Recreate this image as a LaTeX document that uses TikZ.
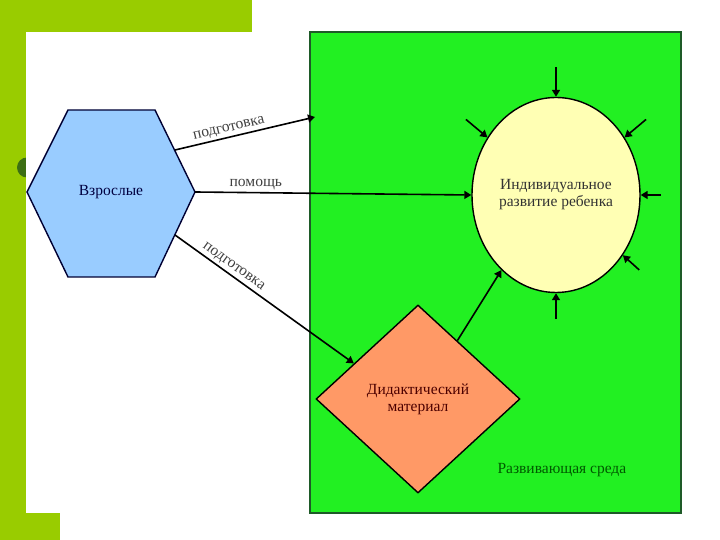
\documentclass[tikz,border=0pt]{standalone}
\usepackage{fontspec}
\setmainfont{Liberation Serif}
\usetikzlibrary{arrows.meta,shapes.geometric,calc}

\definecolor{slideolive}{RGB}{153,204,0}
\definecolor{bulletgreen}{RGB}{60,110,20}
\definecolor{envgreen}{RGB}{34,240,34}
\definecolor{envedge}{RGB}{30,90,40}
\definecolor{hexblue}{RGB}{153,204,255}
\definecolor{childyellow}{RGB}{255,255,180}
\definecolor{matorange}{RGB}{255,153,102}

\begin{document}
\begin{tikzpicture}[x=1pt,y=1pt,
  every node/.style={font=\fontsize{15.5}{17}\selectfont},
  tip/.style={-{Triangle[length=7pt,width=8pt]}, line width=1.6pt},
  lbl/.style={text=black!75, sloped, above, inner sep=2pt}]
  % slide background
  \useasboundingbox (0,0) rectangle (720,540);
  \fill[white] (0,0) rectangle (720,540);
  \fill[slideolive] (0,508) rectangle (252,540);
  \fill[slideolive] (0,0) rectangle (26,540);
  \fill[slideolive] (0,0) rectangle (60,27);
  \fill[bulletgreen] (27,372.5) circle (10);
  \fill[white] (26,27) rectangle (720,508);

  % environment
  \draw[envedge, line width=1.5pt, fill=envgreen] (310,27) rectangle (681,508);
  \node[anchor=west, text=green!35!black] (env) at (494,70) {Развивающая среда};

  % adults
  \filldraw[fill=hexblue, draw=blue!20!black, line width=1.4pt] (27,348) -- (68,430)
    -- (155,430) -- (195,348) -- (155,263) -- (68,263) -- cycle;
  \node[text=blue!25!black] (adult) at (111,348) {Взрослые};
  \coordinate (adultR) at (195,348);
  \coordinate (adultNE) at (175,390);
  \coordinate (adultSE) at (175,305);
  \coordinate (envW) at (315,423);

  % child and material
  \node[ellipse, draw, line width=1.4pt, fill=childyellow, text=black!80,
    minimum width=168, minimum height=195, inner sep=0pt, align=center]
    (child) at (556,345) {Индивидуальное\\развитие ребенка};
  \node[diamond, draw, line width=1.4pt, fill=matorange, text=red!30!black,
    minimum width=204, minimum height=188, inner sep=0pt, align=center]
    (material) at (418,141) {Дидактический\\материал};

  % connectors
  \draw[tip] (adultNE) -- node[lbl, pos=0.4] {подготовка} (envW);
  \draw[tip] (adultR) -- node[lbl, pos=0.22] {помощь} (child.180);
  \draw[tip] (adultSE) -- node[lbl, pos=0.3] {подготовка} (material.151);
  \draw[tip] (material.56) -- (child.234);
  \foreach \a/\l in {90/30,140/28,40/28,0/20,318/22,270/26} {
    \coordinate (in\a) at ($(child.\a)+(\a:\l)$);
    \draw[tip] (in\a) -- (child.\a);
  }
\end{tikzpicture}
\end{document}
